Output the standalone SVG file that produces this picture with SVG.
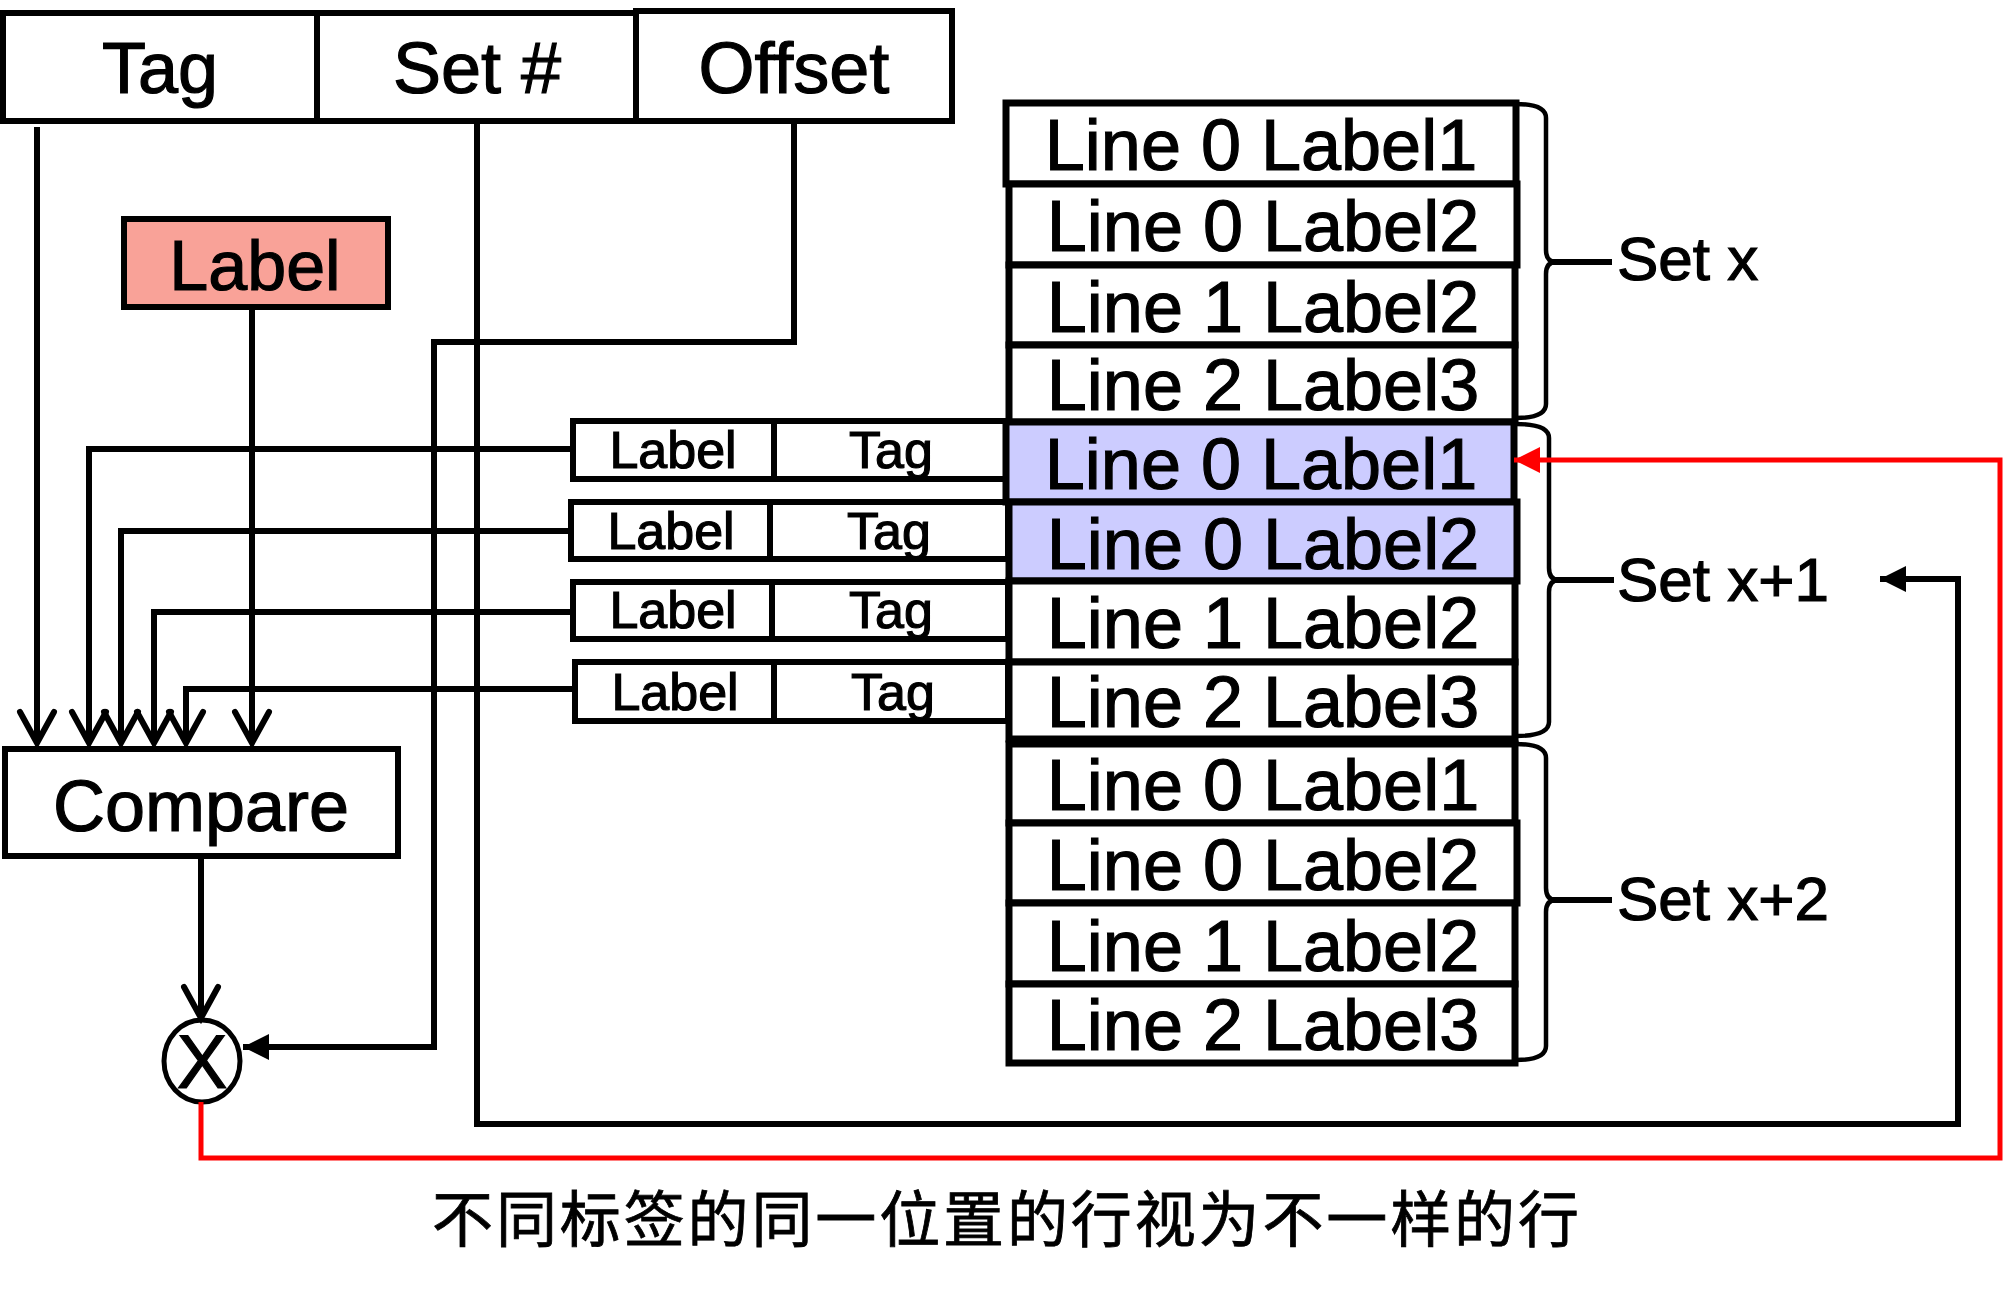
<svg xmlns="http://www.w3.org/2000/svg" width="2004" height="1296" viewBox="0 0 2004 1296">
<style>
.box{fill:#fff;stroke:#000;stroke-width:6}
.cell{fill:#fff;stroke:#000;stroke-width:7}
.hl{fill:#CCCCFF}
.t{font-family:"Liberation Sans",Arial,sans-serif;fill:#000;stroke:#000;stroke-width:1.2;text-anchor:middle}
.big{font-size:72px}
.sm{font-size:52px}
.setl{font-family:"Liberation Sans",Arial,sans-serif;font-size:62px;fill:#000;stroke:#000;stroke-width:1.2}
.ln{fill:none;stroke:#000;stroke-width:6}
.red{fill:none;stroke:#FF0000;stroke-width:5}
.brace{fill:none;stroke:#000;stroke-width:4.5}
</style>
<defs>
<marker id="open" markerUnits="userSpaceOnUse" markerWidth="44" markerHeight="44" viewBox="-40 -22 44 44" refX="0" refY="0" orient="auto" overflow="visible">
<path d="M-31 -17 L0 0 L-31 17" fill="none" stroke="#000" stroke-width="6" stroke-linecap="round" stroke-linejoin="miter"/>
</marker>
<marker id="fill" markerUnits="userSpaceOnUse" markerWidth="30" markerHeight="30" viewBox="-28 -14 30 28" refX="0" refY="0" orient="auto" overflow="visible">
<path d="M-26 -13 L0 0 L-26 13 Z" fill="#000"/>
</marker>
<marker id="fillred" markerUnits="userSpaceOnUse" markerWidth="30" markerHeight="30" viewBox="-28 -14 30 28" refX="0" refY="0" orient="auto" overflow="visible">
<path d="M-26 -13 L0 0 L-26 13 Z" fill="#FF0000"/>
</marker>
</defs>

<g id="address">
<rect class="box" x="3" y="13" width="314" height="108"/>
<rect class="box" x="317" y="13" width="319" height="108"/>
<rect class="box" x="636" y="11" width="316" height="110"/>
<text class="t big" x="160" y="93">Tag</text>
<text class="t big" x="477" y="93">Set #</text>
<text class="t big" x="794" y="93">Offset</text>
</g>

<g id="label">
<rect x="124" y="219" width="264" height="88" fill="#F9A298" stroke="#000" stroke-width="6"/>
<text class="t" style="font-size:70px" x="255" y="290">Label</text>
</g>

<g id="tags">
<rect class="box" x="573" y="421" width="435" height="58"/>
<line x1="774" y1="421" x2="774" y2="479" stroke="#000" stroke-width="6"/>
<text class="t sm" x="673" y="468">Label</text><text class="t sm" x="891" y="468">Tag</text>
<rect class="box" x="571" y="502" width="437" height="57"/>
<line x1="770" y1="502" x2="770" y2="559" stroke="#000" stroke-width="6"/>
<text class="t sm" x="671" y="549">Label</text><text class="t sm" x="889" y="549">Tag</text>
<rect class="box" x="573" y="582" width="435" height="57"/>
<line x1="772" y1="582" x2="772" y2="639" stroke="#000" stroke-width="6"/>
<text class="t sm" x="673" y="628">Label</text><text class="t sm" x="891" y="628">Tag</text>
<rect class="box" x="575" y="662" width="433" height="59"/>
<line x1="774" y1="662" x2="774" y2="721" stroke="#000" stroke-width="6"/>
<text class="t sm" x="675" y="710">Label</text><text class="t sm" x="893" y="710">Tag</text>
</g>

<g id="compare">
<rect class="box" x="5" y="749" width="393" height="107"/>
<text class="t big" x="201" y="831">Compare</text>
</g>

<g id="and">
<ellipse cx="202" cy="1061" rx="38" ry="41" fill="#fff" stroke="#000" stroke-width="5"/>
<text class="t" style="font-size:76px" x="202" y="1088">X</text>
</g>

<g id="setx">
<rect class="cell" x="1006" y="103" width="510" height="81"/>
<rect class="cell" x="1009" y="184" width="508" height="81"/>
<rect class="cell" x="1009" y="265" width="506" height="80"/>
<rect class="cell" x="1009" y="345" width="506" height="77"/>
<text class="t big" x="1261" y="170">Line 0 Label1</text>
<text class="t big" x="1263" y="251">Line 0 Label2</text>
<text class="t big" x="1263" y="332">Line 1 Label2</text>
<text class="t big" x="1263" y="410">Line 2 Label3</text>
<path class="brace" d="M1516 104 Q1546 104 1546 118 V250 Q1546 262 1556 262 Q1546 262 1546 274 V404 Q1546 418 1516 418"/>
<path class="ln" d="M1552 262 H1612"/>
<text class="setl" x="1617" y="280">Set x</text>
</g>

<g id="setx1">
<rect class="cell hl" x="1006" y="422" width="508" height="80"/>
<rect class="cell hl" x="1009" y="502" width="508" height="79"/>
<rect class="cell" x="1009" y="581" width="506" height="81"/>
<rect class="cell" x="1009" y="662" width="506" height="77"/>
<text class="t big" x="1261" y="489">Line 0 Label1</text>
<text class="t big" x="1263" y="569">Line 0 Label2</text>
<text class="t big" x="1263" y="648">Line 1 Label2</text>
<text class="t big" x="1263" y="727">Line 2 Label3</text>
<path class="brace" d="M1516 424 Q1549 424 1549 438 V568 Q1549 580 1559 580 Q1549 580 1549 592 V722 Q1549 736 1516 736"/>
<path class="ln" d="M1555 580 H1614"/>
<text class="setl" x="1617" y="601">Set x+1</text>
</g>

<g id="setx2">
<rect class="cell" x="1009" y="744" width="506" height="79"/>
<rect class="cell" x="1009" y="823" width="508" height="80"/>
<rect class="cell" x="1009" y="903" width="506" height="81"/>
<rect class="cell" x="1009" y="984" width="506" height="79"/>
<text class="t big" x="1263" y="810">Line 0 Label1</text>
<text class="t big" x="1263" y="890">Line 0 Label2</text>
<text class="t big" x="1263" y="971">Line 1 Label2</text>
<text class="t big" x="1263" y="1050">Line 2 Label3</text>
<path class="brace" d="M1516 744 Q1546 744 1546 758 V888 Q1546 900 1556 900 Q1546 900 1546 912 V1046 Q1546 1060 1516 1060"/>
<path class="ln" d="M1552 900 H1612"/>
<text class="setl" x="1617" y="920">Set x+2</text>
</g>

<g id="connectors">
<path class="ln" d="M37 127 V743" marker-end="url(#open)"/>
<path class="ln" d="M252 308 V743" marker-end="url(#open)"/>
<path class="ln" d="M573 449 H89 V743" marker-end="url(#open)"/>
<path class="ln" d="M571 531 H121 V743" marker-end="url(#open)"/>
<path class="ln" d="M573 612 H154 V743" marker-end="url(#open)"/>
<path class="ln" d="M575 689 H186 V743" marker-end="url(#open)"/>
<path class="ln" d="M794 121 V342 H434 V1047 H243" marker-end="url(#fill)"/>
<path class="ln" d="M477 121 V1124 H1958 V579 H1880" marker-end="url(#fill)"/>
<path class="ln" d="M201 856 V1018" marker-end="url(#open)"/>
<path class="red" d="M201 1102 V1158 H2000 V460 H1514" marker-end="url(#fillred)"/>
</g>

<text x="432" y="1242" textLength="1147" lengthAdjust="spacing" style="font-family:'Liberation Sans','Noto Sans CJK SC',sans-serif;font-size:61px" fill="#000" stroke="#000" stroke-width="0.8">不同标签的同一位置的行视为不一样的行</text>
</svg>
